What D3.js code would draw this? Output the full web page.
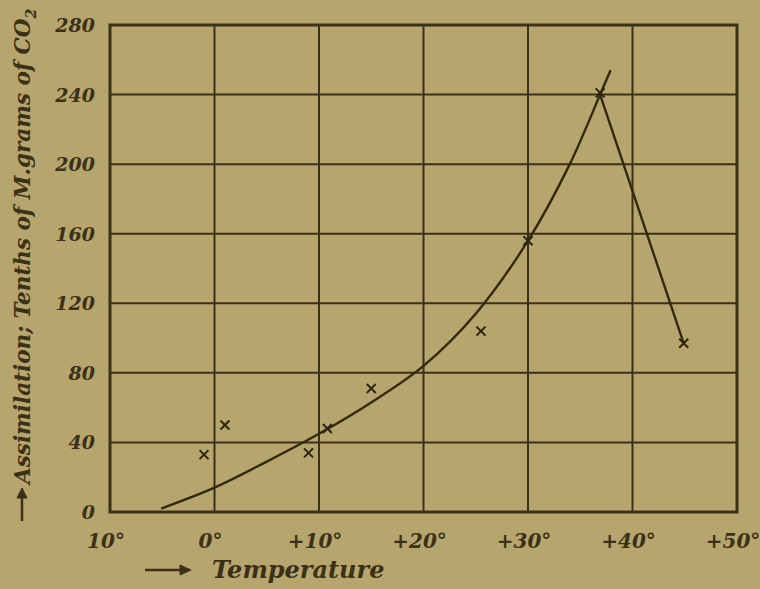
<!DOCTYPE html>
<html>
<head>
  <meta charset="utf-8">
  <title>Assimilation vs temperature</title>
  <script src="https://d3js.org/d3.v7.min.js"></script>
  <style>
  body {
    margin: 0;
    background: #b6a56c;
  }
  svg {
    display: block;
  }
  text {
    font-family: "DejaVu Serif", "Liberation Serif", serif;
    font-style: italic;
    font-weight: bold;
    fill: #3b3018;
  }
  .grid line {
    stroke: #3b3018;
    stroke-width: 2px;
  }
  .frame {
    fill: none;
    stroke: #3b3018;
    stroke-width: 3px;
  }
  .curve {
    fill: none;
    stroke: #33290f;
    stroke-width: 2.4px;
  }
  .cross {
    stroke: #2e2410;
    stroke-width: 2px;
  }
  .arrow {
    stroke: #3b3018;
    stroke-width: 2.5px;
    fill: #3b3018;
  }
  </style>
</head>
<body>
<div id='container'></div>

<script>

  // axis ticks
  var xTicks = [-10, 0, 10, 20, 30, 40, 50]
  var xTickLabels = ['10°', '0°', '+10°', '+20°', '+30°', '+40°', '+50°']
  var yTicks = [0, 40, 80, 120, 160, 200, 240, 280]

  // observed points (crosses)
  var obsTemp  = [-1, 1, 9, 10.8, 15, 25.5, 30, 36.9, 44.9]
  var obsValue = [33, 50, 34, 48, 71, 104, 156, 241, 97]

  // smooth rising curve
  var curveTemp  = [-5.1, 0, 5, 10, 15, 20, 25, 30, 34, 36.9, 37.9]
  var curveValue = [2, 14, 29, 45, 63, 84, 114, 156, 200, 240, 254]

  // straight falling branch
  var fallTemp  = [36.9, 44.9]
  var fallValue = [240, 97]

  const width = 760
  const height = 589

  var svg = d3.select('#container')
    .append('svg')
    .attr('width', width)
    .attr('height', height)

  var x = d3.scaleLinear().domain([-10, 50]).range([110, 737])
  var y = d3.scaleLinear().domain([0, 280]).range([512, 25])

  // grid
  var grid = svg.append('g').classed('grid', true)
  grid.selectAll('.v')
    .data(xTicks.slice(1, -1))
    .enter().append('line')
    .attr('x1', d => x(d)).attr('x2', d => x(d))
    .attr('y1', y(0)).attr('y2', y(280))
  grid.selectAll('.h')
    .data(yTicks.slice(1, -1))
    .enter().append('line')
    .attr('y1', d => y(d)).attr('y2', d => y(d))
    .attr('x1', x(-10)).attr('x2', x(50))

  svg.append('rect')
    .classed('frame', true)
    .attr('x', x(-10)).attr('y', y(280))
    .attr('width', x(50) - x(-10))
    .attr('height', y(0) - y(280))

  // tick labels
  svg.selectAll('.xl')
    .data(xTicks)
    .enter().append('text')
    .attr('x', d => x(d) - 4)
    .attr('y', 548)
    .attr('text-anchor', 'middle')
    .style('font-size', '20px')
    .text((d, i) => xTickLabels[i])

  svg.selectAll('.yl')
    .data(yTicks)
    .enter().append('text')
    .attr('x', 95)
    .attr('y', d => y(d) + 7)
    .attr('text-anchor', 'end')
    .style('font-size', '19px')
    .text(d => d)

  // x title with long arrow
  svg.append('line').classed('arrow', true)
    .attr('x1', 145).attr('y1', 570).attr('x2', 182).attr('y2', 570)
  svg.append('path').classed('arrow', true)
    .attr('d', 'M180,565 L191,570 L180,575 Z')
    .style('stroke-width', 1)
  svg.append('text')
    .attr('x', 212)
    .attr('y', 578)
    .style('font-size', '24px')
    .text('Temperature')

  // y title, rotated, with arrow at its foot
  svg.append('line').classed('arrow', true)
    .attr('x1', 22).attr('y1', 521).attr('x2', 22).attr('y2', 496)
  svg.append('path').classed('arrow', true)
    .attr('d', 'M17,498 L22,488 L27,498 Z')
    .style('stroke-width', 1)

  var yt = svg.append('text')
    .attr('transform', 'translate(30,484) rotate(-90)')
    .style('font-size', '21.5px')
  yt.append('tspan').text('Assimilation; Tenths of M.grams of CO')
  yt.append('tspan').attr('dy', 6).style('font-size', '14px').text('2')

  // curves
  var line = d3.line()
    .x(d => x(d[0]))
    .y(d => y(d[1]))

  svg.append('path')
    .classed('curve', true)
    .datum(d3.zip(curveTemp, curveValue))
    .attr('d', line.curve(d3.curveCatmullRom))

  svg.append('path')
    .classed('curve', true)
    .datum(d3.zip(fallTemp, fallValue))
    .attr('d', d3.line().x(d => x(d[0])).y(d => y(d[1])))

  // crosses
  var s = 4.5
  var crosses = svg.selectAll('.pt')
    .data(d3.zip(obsTemp, obsValue))
    .enter().append('g')
    .attr('transform', d => 'translate(' + x(d[0]) + ',' + y(d[1]) + ')')
  crosses.append('line').classed('cross', true)
    .attr('x1', -s).attr('y1', -s).attr('x2', s).attr('y2', s)
  crosses.append('line').classed('cross', true)
    .attr('x1', -s).attr('y1', s).attr('x2', s).attr('y2', -s)

</script>
</body>
</html>
